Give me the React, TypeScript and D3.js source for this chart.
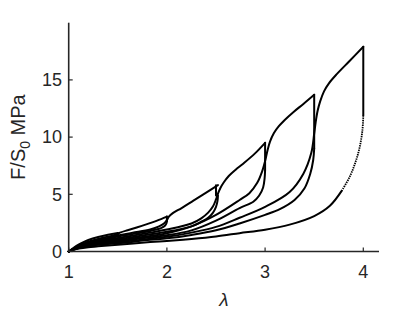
import React from "react";
import * as d3 from "d3";

type Pt = [number, number];

// stretch ratio lambda and nominal stress F/S0 (MPa)
const cycleMax = [1.5, 2, 2.5, 3, 3.5, 4];
const peakStress = [1.62, 3.05, 5.8, 9.5, 13.7, 17.9];
const relaxedStress = [1.5, 2.65, 4.9, 7.1, 9.0, 11.9];

const load1: Pt[] = [[1,0],[1.03,0.2],[1.05,0.33],[1.1,0.6],[1.15,0.82],[1.2,1.0],[1.3,1.26],[1.4,1.46],[1.5,1.62]];
const unload1: Pt[] = [[1.5,1.5],[1.495,1.4],[1.48,1.3],[1.44,1.2],[1.4,1.13],[1.3,1.02],[1.2,0.79],[1.1,0.46],[1.05,0.24],[1,0]];

const load2: Pt[] = [[1,0],[1.05,0.26],[1.1,0.5],[1.2,0.85],[1.3,1.1],[1.4,1.3],[1.46,1.42],[1.5,1.55],[1.53,1.67],[1.6,1.86],[1.7,2.12],[1.82,2.46],[1.9,2.7],[2.0,3.05]];
const unload2: Pt[] = [[2.0,2.65],[1.995,2.45],[1.98,2.25],[1.94,2.05],[1.88,1.9],[1.83,1.8],[1.65,1.52],[1.5,1.3],[1.3,0.91],[1.2,0.7],[1.1,0.41],[1.05,0.22],[1,0]];

const load3: Pt[] = [[1,0],[1.05,0.23],[1.1,0.44],[1.2,0.75],[1.3,0.97],[1.5,1.4],[1.65,1.64],[1.83,1.93],[1.92,2.2],[1.97,2.45],[2.0,2.75],[2.02,3.05],[2.06,3.35],[2.15,3.8],[2.27,4.45],[2.4,5.15],[2.52,5.8]];
const unload3: Pt[] = [[2.52,4.9],[2.515,4.4],[2.5,3.9],[2.47,3.4],[2.42,2.95],[2.35,2.6],[2.25,2.2],[2.0,1.72],[1.83,1.5],[1.5,1.07],[1.3,0.81],[1.2,0.62],[1.1,0.37],[1.05,0.2],[1,0]];

const load4: Pt[] = [[1,0],[1.05,0.21],[1.1,0.39],[1.2,0.66],[1.3,0.86],[1.5,1.18],[1.83,1.65],[2.0,1.92],[2.25,2.45],[2.35,2.9],[2.42,3.4],[2.47,3.95],[2.5,4.55],[2.52,5.05],[2.545,5.55],[2.58,6.05],[2.63,6.6],[2.7,7.15],[2.78,7.7],[2.9,8.6],[3.0,9.5]];
const unload4: Pt[] = [[3.0,7.1],[2.995,6.4],[2.98,5.6],[2.94,4.9],[2.88,4.35],[2.74,3.8],[2.5,2.7],[2.25,1.85],[2.0,1.42],[1.83,1.25],[1.5,0.88],[1.3,0.7],[1.2,0.54],[1.1,0.33],[1.05,0.18],[1,0]];

const load5: Pt[] = [[1,0],[1.05,0.19],[1.1,0.35],[1.2,0.58],[1.3,0.75],[1.5,0.97],[1.83,1.35],[2.0,1.6],[2.25,2.2],[2.5,3.2],[2.74,4.5],[2.84,5.1],[2.92,6.0],[2.97,7.0],[3.0,7.9],[3.025,8.85],[3.05,9.6],[3.09,10.35],[3.14,10.95],[3.2,11.5],[3.29,12.2],[3.39,12.9],[3.5,13.7]];
const unload5: Pt[] = [[3.5,9.0],[3.49,8.0],[3.46,6.8],[3.4,5.5],[3.3,4.5],[3.15,3.7],[3.0,3.2],[2.74,2.45],[2.5,1.85],[2.25,1.45],[2.0,1.15],[1.83,1.02],[1.5,0.72],[1.3,0.58],[1.2,0.46],[1.1,0.29],[1.05,0.16],[1,0]];

const load6: Pt[] = [[1,0],[1.05,0.17],[1.1,0.31],[1.2,0.5],[1.3,0.64],[1.5,0.8],[1.83,1.12],[2.0,1.28],[2.25,1.65],[2.5,2.15],[2.74,2.95],[3.0,3.9],[3.25,5.2],[3.39,6.8],[3.47,8.6],[3.5,10.3],[3.515,11.3],[3.535,12.3],[3.56,13.1],[3.6,14.0],[3.65,14.7],[3.73,15.5],[3.86,16.65],[4.0,17.9]];
const unload6Fast: Pt[] = [[4.0,11.9],[3.99,10.5],[3.96,9.0],[3.92,7.8],[3.86,6.5],[3.78,5.3]];
const unload6: Pt[] = [[3.78,5.3],[3.66,4.0],[3.5,3.1],[3.25,2.35],[3.0,1.9],[2.74,1.6],[2.5,1.32],[2.25,1.1],[2.0,0.92],[1.83,0.82],[1.5,0.6],[1.3,0.45],[1.2,0.38],[1.1,0.25],[1.05,0.14],[1,0]];

const solidCurves: Pt[][] = [load1, unload1, load2, unload2, load3, unload3, load4, unload4, load5, unload5, load6, unload6];
const dottedCurves: Pt[][] = [unload6Fast];

const xTicks = [1, 2, 3, 4];
const yTicks = [0, 5, 10, 15];
const xLabel = "λ";

const W = 397;
const H = 312;

export default function App() {
  const x = d3.scaleLinear().domain([1, 4.16]).range([68.7, 379]);
  const y = d3.scaleLinear().domain([0, 20]).range([251.5, 22.7]);
  const line = d3
    .line<Pt>()
    .x((d) => x(d[0]))
    .y((d) => y(d[1]))
    .curve(d3.curveCatmullRom.alpha(0.5));

  const axisColor = "#262626";
  const font = "'Liberation Sans', Arial, Helvetica, sans-serif";
  const [x0, x1] = x.range();
  const [y0, y1] = y.range();

  return (
    <svg
      width={W}
      height={H}
      viewBox={`0 0 ${W} ${H}`}
      style={{ position: "absolute", left: 0, top: 0, background: "#fff" }}
    >
      <rect width={W} height={H} fill="#fff" />
      <g fill="none" stroke="#000" strokeWidth={2} strokeLinejoin="round" strokeLinecap="round">
        {solidCurves.map((c, i) => (
          <path key={"s" + i} d={line(c) || ""} />
        ))}
        {cycleMax.map((lm, i) => (
          <line key={"d" + i} x1={x(lm)} x2={x(lm)} y1={y(peakStress[i])} y2={y(relaxedStress[i])} />
        ))}
      </g>
      <g fill="none" stroke="#000" strokeWidth={1.8} strokeDasharray="1.4 0.9">
        {dottedCurves.map((c, i) => (
          <path key={"o" + i} d={line(c) || ""} />
        ))}
      </g>
      <g stroke={axisColor} strokeWidth={1.6} fill="none">
        <line x1={x0} x2={x1} y1={y0} y2={y0} />
        <line x1={x0} x2={x0} y1={y0} y2={y1} />
        {xTicks.map((t) => (
          <line key={"xt" + t} x1={x(t)} x2={x(t)} y1={y0} y2={y0 - 4} strokeWidth={1.2} />
        ))}
        {yTicks.map((t) => (
          <line key={"yt" + t} x1={x0} x2={x0 + 4} y1={y(t)} y2={y(t)} strokeWidth={1.2} />
        ))}
      </g>
      <g fill={axisColor} fontFamily={font} fontSize={18}>
        {xTicks.map((t) => (
          <text key={"xl" + t} x={x(t)} y={278} textAnchor="middle">
            {t}
          </text>
        ))}
        {yTicks.map((t) => (
          <text key={"yl" + t} x={62} y={y(t)} dy="0.35em" textAnchor="end">
            {t}
          </text>
        ))}
        <text x={(x0 + x1) / 2} y={306} textAnchor="middle" fontStyle="italic" fontSize={19}>
          {xLabel}
        </text>
        <text transform={`translate(25, ${(y0 + y1) / 2}) rotate(-90)`} textAnchor="middle" fontSize={20}>
          F/S<tspan fontSize={14} dy={5}>0</tspan>
          <tspan dy={-5}> MPa</tspan>
        </text>
      </g>
    </svg>
  );
}
